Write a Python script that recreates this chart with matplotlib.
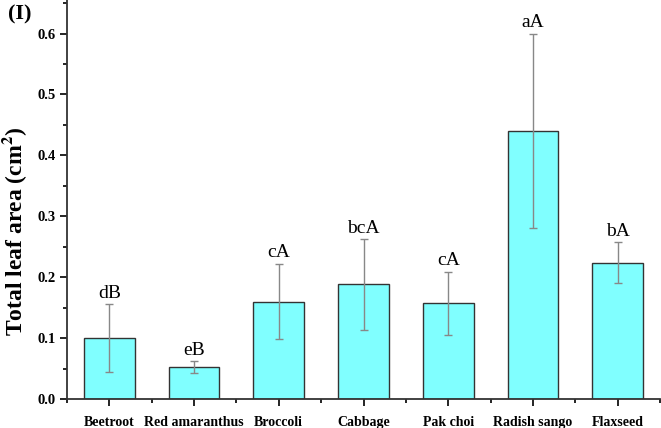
import matplotlib.pyplot as plt
from matplotlib.ticker import MultipleLocator

plt.rcParams['font.family'] = ['Liberation Serif', 'DejaVu Serif']
plt.rcParams['mathtext.fontset'] = 'stix'

crops = ['Beetroot', 'Red amaranthus', 'Broccoli', 'Cabbage', 'Pak choi',
         'Radish sango', 'Flaxseed']
area = [0.100, 0.052, 0.160, 0.188, 0.157, 0.440, 0.224]
err = [0.056, 0.010, 0.062, 0.074, 0.052, 0.160, 0.033]
letters = ['dB', 'eB', 'cA', 'bcA', 'cA', 'aA', 'bA']

fig = plt.figure(figsize=(6.61, 4.28), dpi=100)
ax = fig.add_axes([67 / 661, 29 / 428, 593 / 661, 1 - 29 / 428])

x = range(len(crops))
ax.bar(x, area, width=0.6, color='#80ffff', edgecolor='#333333', linewidth=1.0,
       zorder=2)
ax.errorbar(x, area, yerr=err, fmt='none', ecolor='#888888', elinewidth=1.0,
            capsize=3, capthick=1.0, zorder=3)
for i, (v, e, t) in enumerate(zip(area, err, letters)):
    ax.text(i, v + e + 0.004, t, ha='center', va='bottom', fontsize=14)

ax.set_xlim(-0.5, 6.5)
ax.set_ylim(0, 0.655)
ax.set_xticks(list(x))
ax.set_xticklabels(crops, fontsize=10, fontweight='bold')
ax.xaxis.set_minor_locator(MultipleLocator(1, offset=0.5))
ax.yaxis.set_minor_locator(MultipleLocator(0.05))
ax.set_yticks([0, 0.1, 0.2, 0.3, 0.4, 0.5, 0.6])
ax.set_yticklabels(['0.0', '0.1', '0.2', '0.3', '0.4', '0.5', '0.6'],
                   fontsize=10.5, fontweight='bold')
ax.tick_params(which='major', direction='out', length=5, width=1.2)
ax.tick_params(which='minor', direction='out', length=3, width=1.2)
ax.tick_params(axis='x', pad=7)
ax.tick_params(axis='y', pad=3)
for s in ['top', 'right']:
    ax.spines[s].set_visible(False)
for s in ['left', 'bottom']:
    ax.spines[s].set_linewidth(1.3)
    ax.spines[s].set_color('#333333')

ax.set_ylabel('Total leaf area (cm$^\\mathbf{2}$)', fontsize=17,
              fontweight='bold')
ax.yaxis.set_label_coords(-0.064, 0.42)
fig.text(8 / 661, 1 - 14 / 428, '(I)', fontsize=16, fontweight='bold',
         ha='left', va='center')

fig.savefig('out.png', dpi=100)
plt.close(fig)
